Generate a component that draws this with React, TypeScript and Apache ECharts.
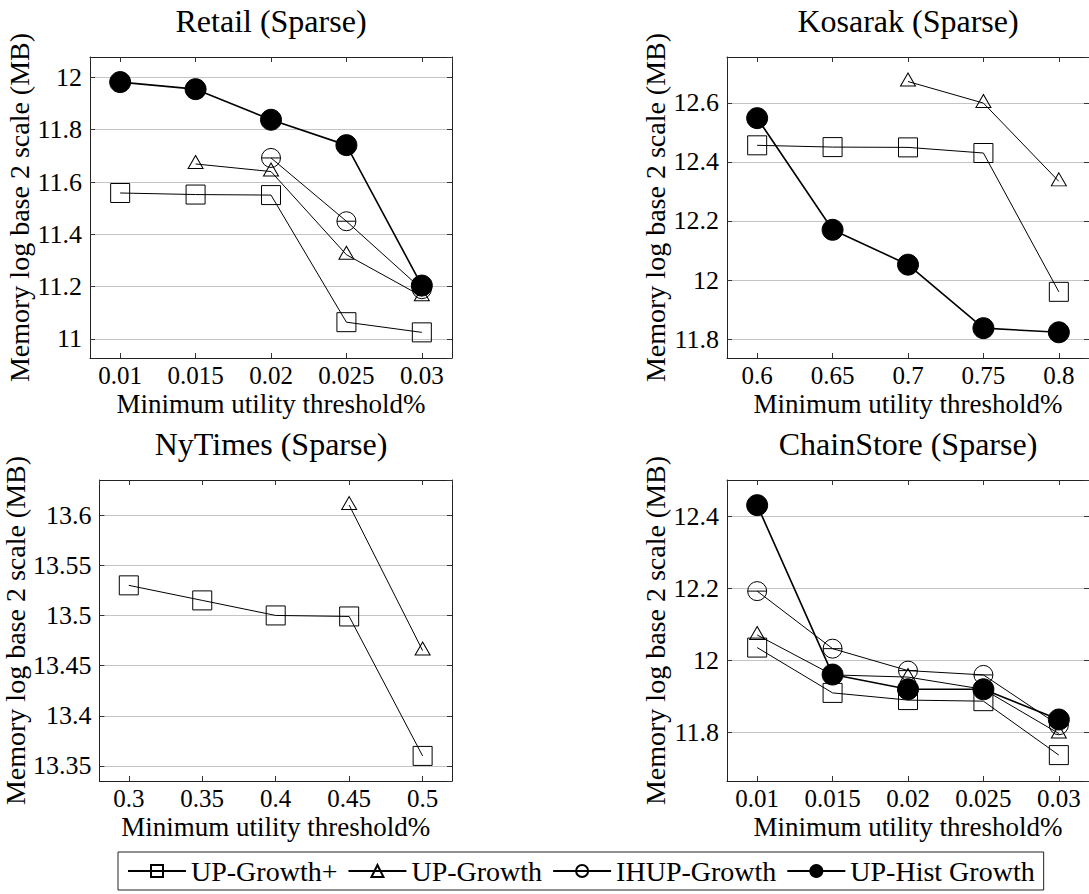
import React, { useEffect, useRef } from "react";
import * as echarts from "echarts";

// ---------- data ----------
const SERIES_NAMES = ["UP-Growth+", "UP-Growth", "IHUP-Growth", "UP-Hist Growth"];

const retailX = [0.01, 0.015, 0.02, 0.025, 0.03];
const retailUPGrowthPlus = [11.558, 11.552, 11.55, 11.064, 11.025];
const retailUPGrowth = [null, 11.669, 11.64, 11.322, 11.163];
const retailIHUPGrowth = [null, null, 11.692, 11.45, 11.19];
const retailUPHistGrowth = [11.982, 11.955, 11.838, 11.741, 11.204];

const kosarakX = [0.6, 0.65, 0.7, 0.75, 0.8];
const kosarakUPGrowthPlus = [12.456, 12.45, 12.449, 12.43, 11.96];
const kosarakUPGrowth = [null, null, 12.672, 12.599, 12.334];
const kosarakIHUPGrowth = [null, null, null, null, null];
const kosarakUPHistGrowth = [12.548, 12.17, 12.052, 11.837, 11.823];

const nytimesX = [0.3, 0.35, 0.4, 0.45, 0.5];
const nytimesUPGrowthPlus = [13.53, 13.515, 13.5, 13.499, 13.36];
const nytimesUPGrowth = [null, null, null, 13.61, 13.465];
const nytimesIHUPGrowth = [null, null, null, null, null];
const nytimesUPHistGrowth = [null, null, null, null, null];

const chainX = [0.01, 0.015, 0.02, 0.025, 0.03];
const chainUPGrowthPlus = [12.036, 11.91, 11.89, 11.887, 11.737];
const chainUPGrowth = [12.071, 11.96, 11.954, 11.92, 11.797];
const chainIHUPGrowth = [12.193, 12.033, 11.972, 11.96, 11.82];
const chainUPHistGrowth = [12.432, 11.961, 11.92, 11.92, 11.836];

const TITLES = ["Retail (Sparse)", "Kosarak (Sparse)", "NyTimes (Sparse)", "ChainStore (Sparse)"];
const X_NAME = "Minimum utility threshold%";
const Y_NAME = "Memory log base 2 scale (MB)";

// ---------- layout / styles ----------
const FONT = "Liberation Serif";

const PANELS = [
  { title: TITLES[0], x: retailX, ys: [retailUPGrowthPlus, retailUPGrowth, retailIHUPGrowth, retailUPHistGrowth],
    xMin: 0.008, xMax: 0.032, xStep: 0.005, yMin: 10.927, yMax: 12.078, yStep: 0.2, left: 90, top: 57 },
  { title: TITLES[1], x: kosarakX, ys: [kosarakUPGrowthPlus, kosarakUPGrowth, kosarakIHUPGrowth, kosarakUPHistGrowth],
    xMin: 0.58, xMax: 0.82, xStep: 0.05, yMin: 11.736, yMax: 12.755, yStep: 0.2, left: 727, top: 57 },
  { title: TITLES[2], x: nytimesX, ys: [nytimesUPGrowthPlus, nytimesUPGrowth, nytimesIHUPGrowth, nytimesUPHistGrowth],
    xMin: 0.28, xMax: 0.52, xStep: 0.05, yMin: 13.335, yMax: 13.635, yStep: 0.05, left: 90, top: 480 },
  { title: TITLES[3], x: chainX, ys: [chainUPGrowthPlus, chainUPGrowth, chainIHUPGrowth, chainUPHistGrowth],
    xMin: 0.008, xMax: 0.032, xStep: 0.005, yMin: 11.665, yMax: 12.502, yStep: 0.2, left: 727, top: 480 },
];
const GRID_W = 362;
const GRID_H = 301;

const CIRCLE_MINUS = "path://M0,10A10,10,0,1,1,20,10A10,10,0,1,1,0,10ZM0,10L20,10";
const CLEAR = "rgba(0,0,0,0)";

const STYLES: Record<string, any> = {
  "UP-Growth+": { symbol: "rect", symbolSize: 19, fill: CLEAR, lw: 1 },
  "UP-Growth": { symbol: "triangle", symbolSize: [15, 13], symbolOffset: [0, -2], fill: CLEAR, lw: 1 },
  "IHUP-Growth": { symbol: CIRCLE_MINUS, symbolSize: 19, fill: CLEAR, lw: 1 },
  "UP-Hist Growth": { symbol: "circle", symbolSize: 21, fill: "#000", lw: 1.6 },
};

function buildOption() {
  const grid: any[] = [];
  const xAxis: any[] = [];
  const yAxis: any[] = [];
  const series: any[] = [];
  const title: any[] = [];
  const tickStyle = { inside: true, length: 5, lineStyle: { color: "#333", width: 1 } };
  const lineStyle = { show: true, onZero: false, lineStyle: { color: "#222", width: 1 } };

  PANELS.forEach((p, i) => {
    grid.push({ left: p.left, top: p.top, width: GRID_W, height: GRID_H, show: false });
    title.push({
      text: p.title, left: p.left + GRID_W / 2, top: p.top - 52, textAlign: "center", padding: 0,
      textStyle: { fontFamily: FONT, fontSize: 32, fontWeight: "normal", color: "#000" },
    });
    // bottom x axis
    xAxis.push({
      type: "value", gridIndex: i, position: "bottom", min: p.xMin, max: p.xMax,
      minInterval: p.xStep, maxInterval: p.xStep,
      name: X_NAME, nameLocation: "middle", nameGap: 32,
      nameTextStyle: { fontFamily: FONT, fontSize: 27, color: "#000" },
      axisLine: lineStyle, axisTick: tickStyle,
      axisLabel: { showMinLabel: false, showMaxLabel: false, margin: 5, fontFamily: FONT, fontSize: 25, color: "#000" },
      splitLine: { show: false },
    });
    // top x axis (box + ticks)
    xAxis.push({
      type: "value", gridIndex: i, position: "top", min: p.xMin, max: p.xMax,
      minInterval: p.xStep, maxInterval: p.xStep,
      axisLine: lineStyle, axisTick: tickStyle, axisLabel: { show: false }, splitLine: { show: false },
    });
    // left y axis
    yAxis.push({
      type: "value", gridIndex: i, position: "left", min: p.yMin, max: p.yMax,
      minInterval: p.yStep, maxInterval: p.yStep,
      name: Y_NAME, nameLocation: "middle", nameGap: 42,
      nameTextStyle: { fontFamily: FONT, fontSize: 28, color: "#000" },
      axisLine: lineStyle, axisTick: tickStyle,
      axisLabel: { showMinLabel: false, showMaxLabel: false, margin: 8, fontFamily: FONT, fontSize: 26, color: "#000" },
      splitLine: { show: true, showMinLine: false, showMaxLine: false, lineStyle: { color: "#c4c4c4", width: 1 } },
    });
    // right y axis
    yAxis.push({
      type: "value", gridIndex: i, position: "right", min: p.yMin, max: p.yMax,
      minInterval: p.yStep, maxInterval: p.yStep,
      axisLine: lineStyle, axisTick: tickStyle, axisLabel: { show: false }, splitLine: { show: false },
    });

    SERIES_NAMES.forEach((name, k) => {
      const ys = p.ys[k];
      const data = p.x.map((x, j) => (ys[j] == null ? null : [x, ys[j]])).filter((d) => d !== null);
      if (!data.length) return;
      const st = STYLES[name];
      series.push({
        type: "line", name, xAxisIndex: i * 2, yAxisIndex: i * 2, data,
        symbol: st.symbol, symbolSize: st.symbolSize, symbolOffset: st.symbolOffset,
        showSymbol: true, showAllSymbol: true,
        itemStyle: { color: st.fill, borderColor: "#000", borderWidth: 1 },
        lineStyle: { color: "#000", width: st.lw },
        emphasis: { disabled: true },
        z: 2 + k,
      });
    });
  });

  return {
    animation: false,
    backgroundColor: "#fff",
    title,
    grid,
    xAxis,
    yAxis,
    series,
    legend: {
      data: SERIES_NAMES,
      left: 118, top: 852,
      itemWidth: 58, itemHeight: 15, itemGap: 10,
      padding: [5, 9, 5, 9],
      borderColor: "#222", borderWidth: 1,
      selectedMode: false,
      textStyle: { fontFamily: FONT, fontSize: 28, color: "#000" },
    },
  };
}

export default function App() {
  const ref = useRef<HTMLDivElement>(null);
  useEffect(() => {
    if (!ref.current) return;
    const chart = echarts.init(ref.current, null, { renderer: "svg" });
    chart.setOption(buildOption() as any);
    return () => chart.dispose();
  }, []);
  return (
    <div
      ref={ref}
      style={{ position: "absolute", left: 0, top: 0, width: 1089, height: 894, background: "#fff" }}
    />
  );
}
